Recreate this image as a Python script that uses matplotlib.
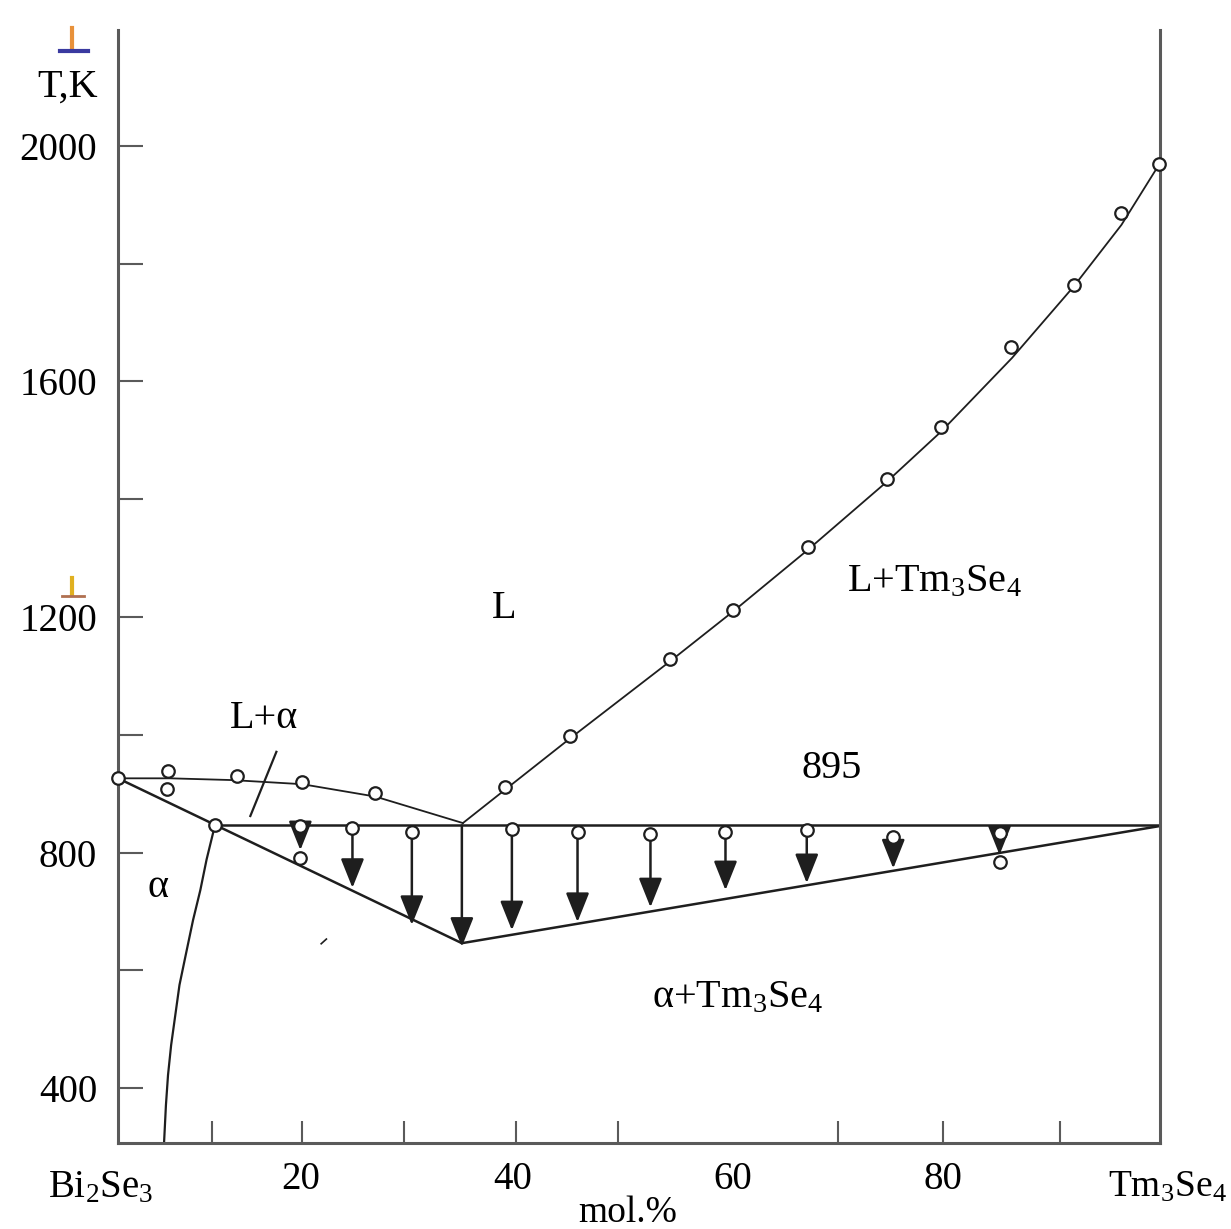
import numpy as np
import matplotlib
matplotlib.use('Agg')
import matplotlib.pyplot as plt
from matplotlib.lines import Line2D

plt.rcParams['font.family'] = ['Liberation Serif', 'DejaVu Serif']
plt.rcParams['mathtext.fontset'] = 'custom'
plt.rcParams['mathtext.rm'] = 'Liberation Serif'
plt.rcParams['mathtext.it'] = 'Liberation Serif:italic'

# liquidus on the Bi2Se3 side (curve) and its DTA points
liq_left_x = [0, 5, 11, 17.7, 24.7, 33.1]
liq_left_t = [926, 926, 923, 916, 895, 850]
pts_left_x = [0, 4.8, 4.7, 11.4, 17.7, 24.7]
pts_left_t = [926, 938, 908, 930, 920, 901]

# liquidus on the Tm3Se4 side: curve and measured points
liq_right_x = [33.1, 37.1, 43.4, 53.0, 59.0, 66.2, 73.8, 79.0, 85.8, 91.7, 96.3, 100]
liq_right_t = [850, 906, 994, 1125, 1209, 1314, 1430, 1515, 1640, 1761, 1866, 1971]
pts_right_x = [37.1, 43.4, 53.0, 59.0, 66.2, 73.8, 79.0, 85.7, 91.7, 96.3, 99.9]
pts_right_t = [911, 998, 1129, 1212, 1319, 1434, 1523, 1658, 1764, 1886, 1969]

# solidus / lower boundary
solidus_x = [0, 33.0, 100]
solidus_t = [926, 646, 845]

# horizontal line
horiz_x = [9.3, 100]
horiz_t = [846, 846]

# solvus of alpha
solvus_x = [9.3, 8.5, 7.9, 7.2, 6.5, 5.9, 5.5, 5.1, 4.8, 4.6, 4.4]
solvus_t = [846, 788, 736, 685, 626, 575, 524, 473, 422, 371, 300]

# thermal arrows
arrow_x = [17.5, 22.5, 28.2, 33.0, 37.8, 44.1, 51.1, 58.3, 66.1, 74.4, 84.6]
arrow_top = [845, 841, 835, 846, 840, 835, 831, 835, 838, 826, 833]
arrow_tip = [804, 740, 677, 640, 668, 682, 707, 736, 748, 773, 796]
arrow_circle = [1, 1, 1, 0, 1, 1, 1, 1, 1, 1, 1]

low_pts_x = [17.5, 84.6]
low_pts_t = [790, 784]

# tick marks and labels on the x axis
xtick_pos = [9.0, 17.7, 27.4, 38.2, 48.0, 69.1, 79.2, 90.4]
xlab_pos = [17.5, 37.9, 59.0, 79.2]
xlab_txt = ['20', '40', '60', '80']
yticks = [400, 600, 800, 1000, 1200, 1400, 1600, 1800, 2000]
ylabels = ['400', '', '800', '', '1200', '', '1600', '', '2000']

W, H = 1231, 1229
fig = plt.figure(figsize=(W / 100, H / 100), dpi=100)
ax = fig.add_axes([118 / W, 86 / H, 1042 / W, 1113 / H])
ax.set_xlim(0, 100)
ax.set_ylim(306.6, 2197)

spine_c = '#5a5a5a'
line_c = '#1e1e1e'
for s in ['left', 'bottom', 'right']:
    ax.spines[s].set_color(spine_c)
    ax.spines[s].set_linewidth(2.2)
ax.spines['top'].set_visible(False)

ax.set_yticks(yticks, ylabels)
ax.set_xticks(xtick_pos, [''] * len(xtick_pos))
ax.tick_params(axis='y', direction='in', length=18, width=1.5, pad=15,
               labelsize=28, color=spine_c)
ax.tick_params(axis='x', direction='in', length=16, width=1.5, color=spine_c)

# lines
ax.plot(liq_left_x, liq_left_t, color=line_c, lw=1.3)
ax.plot(liq_right_x, liq_right_t, color=line_c, lw=1.3)
ax.plot(solidus_x, solidus_t, color=line_c, lw=1.8)
ax.plot(horiz_x, horiz_t, color=line_c, lw=1.8)
ax.plot(solvus_x, solvus_t, color=line_c, lw=1.6)
ax.plot([12.7, 15.2], [862, 971], color=line_c, lw=1.6)
ax.plot([19.5, 20.0], [645, 653], color=line_c, lw=1.2)

# arrows
for x, t0, t1 in zip(arrow_x, arrow_top, arrow_tip):
    ax.annotate('', xy=(x, t1), xytext=(x, t0),
                arrowprops=dict(arrowstyle='-|>,head_length=0.9,head_width=0.36',
                                color=line_c, lw=1.8, shrinkA=0, shrinkB=0,
                                mutation_scale=20))

mk = dict(marker='o', ms=9, mfc='white', mec=line_c, mew=1.6, ls='none',
          zorder=5, clip_on=False)
ax.plot(pts_left_x, pts_left_t, **mk)
ax.plot(pts_right_x, pts_right_t, **mk)
ax.plot([9.3], [846], **mk)
ax.plot([x for x, c in zip(arrow_x, arrow_circle) if c],
        [t for t, c in zip(arrow_top, arrow_circle) if c], **mk)
ax.plot(low_pts_x, low_pts_t, **mk)

# region labels
fs = 29
ax.text(37.1, 1215, 'L', fontsize=fs, ha='center', va='center')
ax.text(14.0, 1028, 'L+α', fontsize=fs, ha='center', va='center')
ax.text(68.5, 943, '895', fontsize=fs, ha='center', va='center')
ax.text(78.3, 1259, r'$\mathrm{L{+}Tm_3Se_4}$', fontsize=fs, ha='center', va='center')
ax.text(3.8, 741, 'α', fontsize=fs, ha='center', va='center')
ax.text(59.5, 553, r'$\mathrm{α{+}Tm_3Se_4}$', fontsize=fs, ha='center', va='center')

# x axis labels
tr = ax.get_xaxis_transform()
for x, s in zip(xlab_pos, xlab_txt):
    ax.text(x, -0.0332, s, fontsize=28, ha='center', va='center', transform=tr)
ax.text(-1.7, -0.040, r'$\mathrm{Bi_2Se_3}$', fontsize=28, ha='center',
        va='center', transform=tr, clip_on=False)
ax.text(100.7, -0.040, r'$\mathrm{Tm_3Se_4}$', fontsize=27, ha='center',
        va='center', transform=tr, clip_on=False)
fig.text(628 / W, 1 - 1195 / H, 'mol.%', fontsize=27, ha='center', va='top')

# y axis label
fig.text(68 / W, 1 - 87 / H, 'T,K', fontsize=29, ha='center', va='center')

# small coloured icons
fig.add_artist(Line2D([72 / W, 72 / W], [1 - 28 / H, 1 - 50 / H], color='#e8913a', lw=3))
fig.add_artist(Line2D([60 / W, 88 / W], [1 - 51 / H, 1 - 51 / H], color='#3a3aa0', lw=3))
fig.add_artist(Line2D([72 / W, 72 / W], [1 - 578 / H, 1 - 594 / H], color='#e0b020', lw=3))
fig.add_artist(Line2D([62 / W, 84 / W], [1 - 596 / H, 1 - 596 / H], color='#b07050', lw=2))

fig.savefig('out.png', dpi=100)
